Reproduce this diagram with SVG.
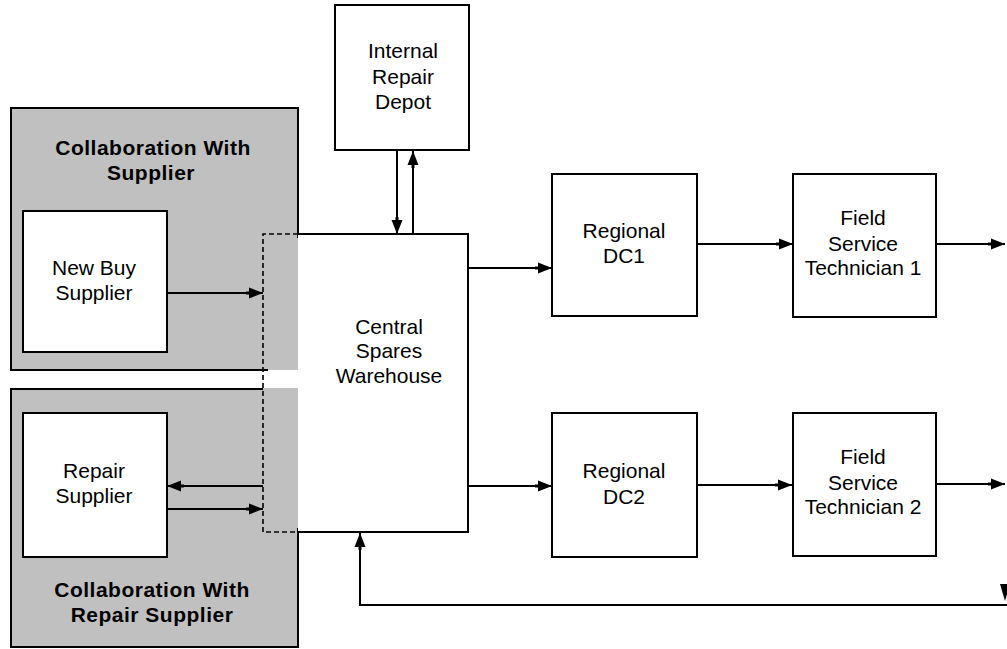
<svg xmlns="http://www.w3.org/2000/svg" width="1007" height="649" viewBox="0 0 1007 649">
<style>
.box{fill:#fff;stroke:#000;stroke-width:2}
.ln{fill:none;stroke:#000;stroke-width:2}
.dash{fill:none;stroke:#000;stroke-width:1.6;stroke-dasharray:5 3}
.gray{fill:#c0c0c0;stroke:none}
.t{font-family:"Liberation Sans",Arial,sans-serif;font-size:21px;fill:#000;text-anchor:middle}
.b{font-family:"Liberation Sans",Arial,sans-serif;font-size:21px;font-weight:bold;fill:#000;text-anchor:middle;letter-spacing:0.5px}
</style>
<defs>
<marker id="ah" markerUnits="userSpaceOnUse" markerWidth="20" markerHeight="14" refX="17" refY="6" orient="auto">
<path d="M0,4.5 H3 V0.5 L17,6 L3,11.5 V7.5 H0 Z" fill="#000"/>
</marker>
</defs>
<rect width="1007" height="649" fill="#fff"/>
<g id="collab-supplier">
<rect class="gray" x="11" y="108" width="287" height="262"/>
<path class="ln" d="M268,370 H11 V108 H298 V238"/>
<text class="b" x="153" y="155">Collaboration With</text>
<text class="b" x="151" y="180">Supplier</text>
</g>
<g id="collab-repair">
<rect class="gray" x="11" y="388" width="287" height="259"/>
<path class="ln" d="M263,389 H11 V647 H298 V528"/>
<text class="b" x="152" y="597">Collaboration With</text>
<text class="b" x="152" y="622">Repair Supplier</text>
</g>
<g id="new-buy-supplier">
<rect class="box" x="23" y="211" width="144" height="141"/>
<text class="t" x="94" y="275">New Buy</text>
<text class="t" x="94" y="300">Supplier</text>
</g>
<g id="repair-supplier">
<rect class="box" x="23" y="413" width="144" height="144"/>
<text class="t" x="94" y="478">Repair</text>
<text class="t" x="94" y="503">Supplier</text>
</g>
<g id="central-warehouse">
<rect x="298" y="234" width="170" height="298" fill="#fff"/>
<path class="ln" d="M298,234 H468 V532 H298"/>
<path class="dash" d="M298,234 H263 V532 H298"/>
<text class="t" x="389" y="334">Central</text>
<text class="t" x="389" y="358">Spares</text>
<text class="t" x="389" y="383">Warehouse</text>
</g>
<g id="internal-repair-depot">
<rect class="box" x="335" y="5" width="134" height="145"/>
<text class="t" x="403" y="58">Internal</text>
<text class="t" x="403" y="84">Repair</text>
<text class="t" x="403" y="109">Depot</text>
</g>
<g id="regional-dc1">
<rect class="box" x="552" y="174" width="145" height="142"/>
<text class="t" x="624" y="238">Regional</text>
<text class="t" x="624" y="263">DC1</text>
</g>
<g id="regional-dc2">
<rect class="box" x="552" y="413" width="145" height="144"/>
<text class="t" x="624" y="478">Regional</text>
<text class="t" x="624" y="504">DC2</text>
</g>
<g id="field-tech-1">
<rect class="box" x="793" y="174" width="143" height="143"/>
<text class="t" x="863" y="225">Field</text>
<text class="t" x="863" y="251">Service</text>
<text class="t" x="863" y="275">Technician 1</text>
</g>
<g id="field-tech-2">
<rect class="box" x="793" y="413" width="143" height="143"/>
<text class="t" x="863" y="464">Field</text>
<text class="t" x="863" y="490">Service</text>
<text class="t" x="863" y="514">Technician 2</text>
</g>
<g id="connectors">
<path class="ln" d="M167,293 H263" marker-end="url(#ah)"/>
<path class="ln" d="M263,486 H167" marker-end="url(#ah)"/>
<path class="ln" d="M167,509 H263" marker-end="url(#ah)"/>
<path class="ln" d="M397,151 V234" marker-end="url(#ah)"/>
<path class="ln" d="M413,234 V151" marker-end="url(#ah)"/>
<path class="ln" d="M468,268 H552" marker-end="url(#ah)"/>
<path class="ln" d="M468,486 H552" marker-end="url(#ah)"/>
<path class="ln" d="M697,244 H793" marker-end="url(#ah)"/>
<path class="ln" d="M697,485 H792" marker-end="url(#ah)"/>
<path class="ln" d="M936,244 H1005" marker-end="url(#ah)"/>
<path class="ln" d="M936,484 H1005" marker-end="url(#ah)"/>
<path class="ln" d="M1007,605 H360 V533" marker-end="url(#ah)"/>
<polygon points="1000,584 1010,584 1005,601" fill="#000"/>
</g>
</svg>
